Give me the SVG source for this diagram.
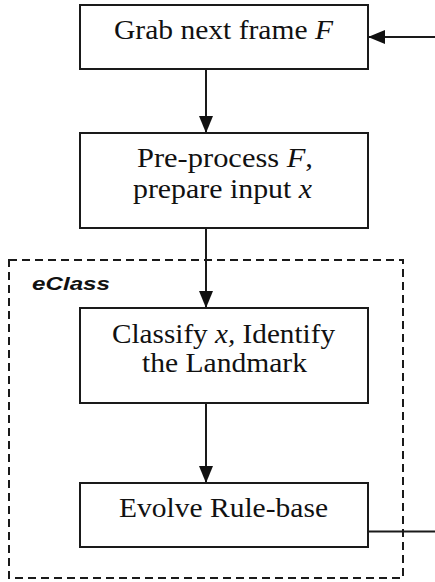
<svg xmlns="http://www.w3.org/2000/svg" width="435" height="582" viewBox="0 0 435 582">
<style>
.box{fill:#fff;stroke:#1a1a1a;stroke-width:2}
.lbl{font-family:"Liberation Serif","Times New Roman",serif;font-size:27px;fill:#111}
.it{font-style:italic}
.conn{stroke:#1a1a1a;stroke-width:2;fill:none}
.grp{fill:none;stroke:#1a1a1a;stroke-width:2;stroke-dasharray:8 5}
.glbl{font-family:"Liberation Sans",Arial,sans-serif;font-weight:bold;font-style:italic;font-size:19px;fill:#111}
</style>
<defs>
<marker id="ah" markerUnits="userSpaceOnUse" markerWidth="18" markerHeight="14" refX="17" refY="7" orient="auto">
<path d="M0,0 L17,7 L0,14 z" fill="#111"/>
</marker>
</defs>
<g id="eclass-group">
<rect class="grp" x="9" y="260" width="394" height="318"/>
<text class="glbl" x="32" y="290" textLength="78" lengthAdjust="spacingAndGlyphs">eClass</text>
</g>
<g id="connectors">
<line class="conn" x1="206" y1="69" x2="206" y2="133" marker-end="url(#ah)"/>
<line class="conn" x1="206" y1="228" x2="206" y2="308" marker-end="url(#ah)"/>
<line class="conn" x1="206" y1="403" x2="206" y2="483" marker-end="url(#ah)"/>
<line class="conn" x1="368" y1="531.5" x2="435" y2="531.5"/>
<line class="conn" x1="435" y1="37" x2="368" y2="37" marker-end="url(#ah)"/>
</g>
<g id="grab">
<rect class="box" x="80" y="5" width="288" height="64"/>
<text class="lbl" x="114" y="39" textLength="219" lengthAdjust="spacingAndGlyphs">Grab next frame <tspan class="it">F</tspan></text>
</g>
<g id="preprocess">
<rect class="box" x="80" y="133" width="288" height="95"/>
<text class="lbl" x="137" y="167" textLength="176" lengthAdjust="spacingAndGlyphs">Pre-process <tspan class="it">F</tspan>,</text>
<text class="lbl" x="133" y="198" textLength="179" lengthAdjust="spacingAndGlyphs">prepare input <tspan class="it">x</tspan></text>
</g>
<g id="classify">
<rect class="box" x="80" y="308" width="288" height="95"/>
<text class="lbl" x="112" y="343" textLength="223" lengthAdjust="spacingAndGlyphs">Classify <tspan class="it">x,</tspan> Identify</text>
<text class="lbl" x="142" y="372" textLength="165" lengthAdjust="spacingAndGlyphs">the Landmark</text>
</g>
<g id="evolve">
<rect class="box" x="80" y="483" width="288" height="64"/>
<text class="lbl" x="119" y="517" textLength="209" lengthAdjust="spacingAndGlyphs">Evolve Rule-base</text>
</g>
</svg>
